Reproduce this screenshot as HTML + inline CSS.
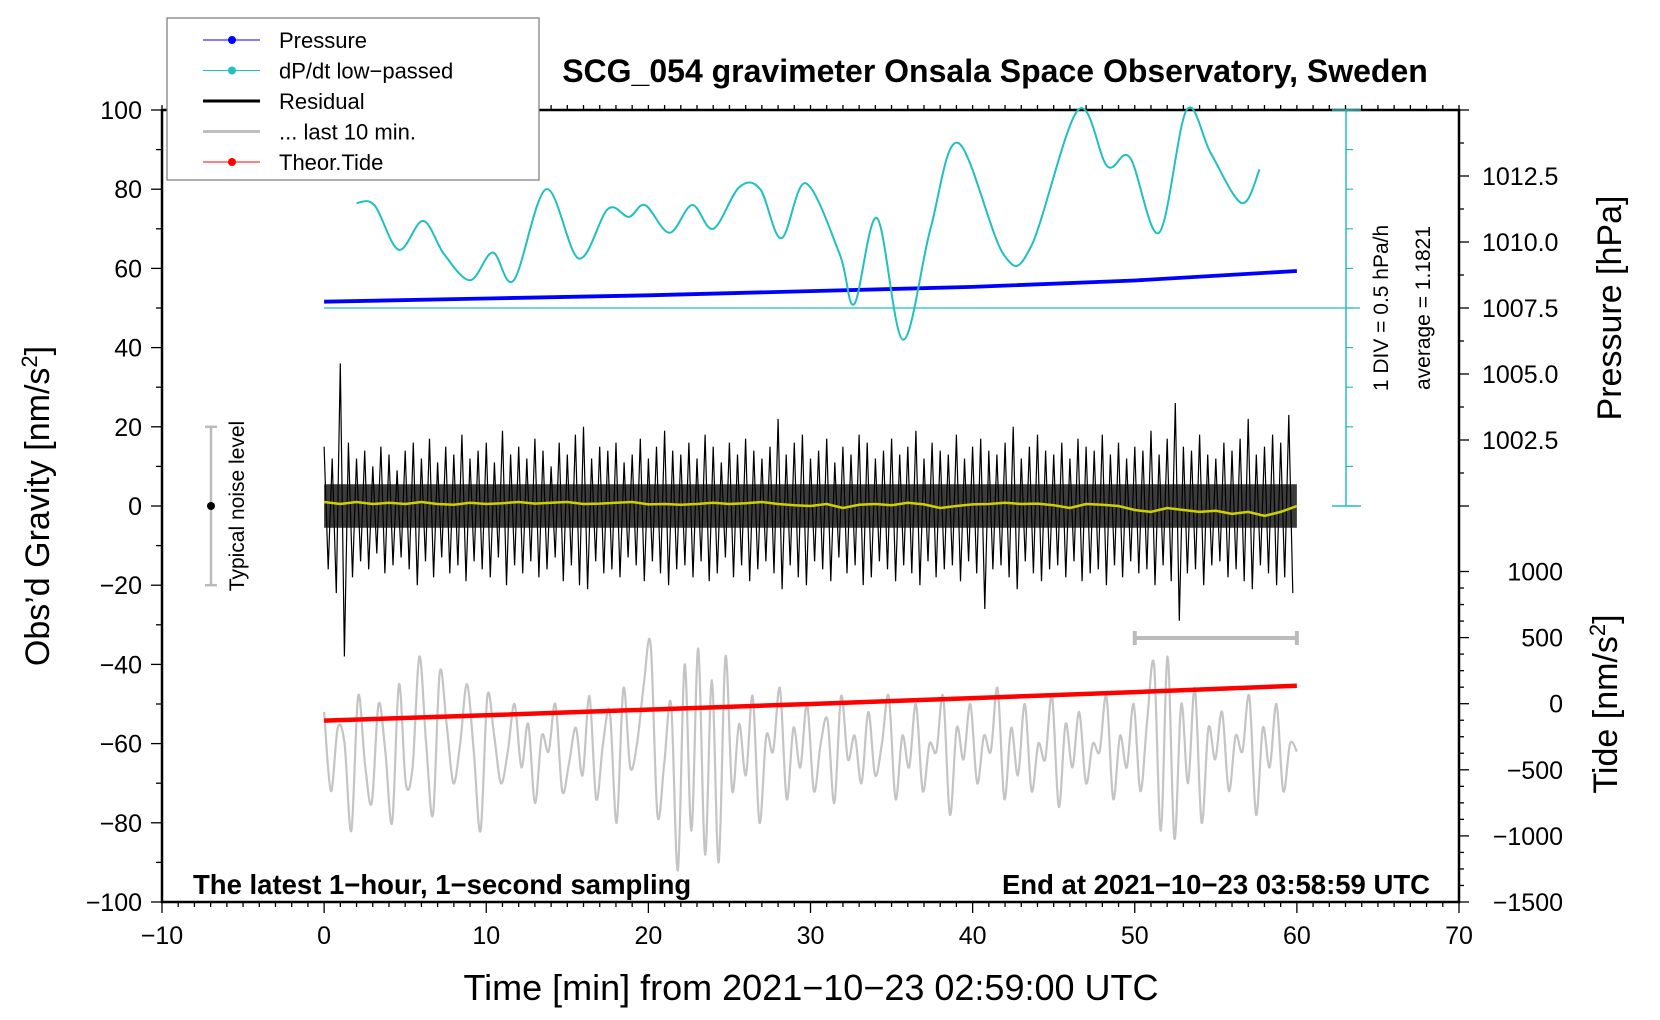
<!DOCTYPE html>
<html><head><meta charset="utf-8"><style>
body{margin:0;background:#fff}
svg{display:block;font-family:"Liberation Sans",sans-serif}
</style></head><body>
<svg id="chart" width="1660" height="1020" viewBox="0 0 1660 1020" xmlns="http://www.w3.org/2000/svg">
<text x="995" y="82" font-size="32" font-weight="bold" text-anchor="middle">SCG_054 gravimeter Onsala Space Observatory, Sweden</text>
<g id="axes"></g>
<g id="marks"></g>
<g id="legend"></g>
</svg>
<script>
const xTicks=[-10,0,10,20,30,40,50,60,70];
const yTicks=[-100,-80,-60,-40,-20,0,20,40,60,80,100];
const pTicks=[1002.5,1005.0,1007.5,1010.0,1012.5];
const tideTicks=[-1500,-1000,-500,0,500,1000];
const pressTime=[0,10,20,30,40,50,60];
const pressVals=[1007.74,1007.86,1007.98,1008.14,1008.30,1008.54,1008.90];
const dpTime=[2,3.1,4.6,6.1,7.4,9.0,10.4,11.7,13.7,15.7,17.5,18.8,19.8,21.3,22.7,24,25.6,26.9,28.2,29.7,31.8,32.7,34.1,35.7,37.4,39.1,41.9,43.6,46.5,48.3,49.7,51.5,53.2,54.7,56.6,57.7];
const dpVals=[76.5,76,64.7,72,63.6,57,64,57,80,62.5,75,73,76,69,76,70,80.5,80,67.6,81.5,63.6,51,72.7,42,70,91.7,63.6,65.5,100,85.8,88,69,100,89,76.5,85];
const residHi=[15,12,36,16,12,14,10,15,13,9,14,16,12,17,11,15,13,18,12,14,16,11,19,13,15,12,17,14,10,16,13,18,20,12,15,14,16,11,13,17,12,15,19,14,13,16,12,18,15,11,16,13,17,14,12,15,22,13,16,18,12,14,17,11,15,13,18,16,12,14,17,13,15,19,12,16,14,13,18,12,15,17,14,13,16,20,12,15,18,14,13,16,12,17,15,14,18,13,16,12,15,14,19,13,17,26,15,14,18,13,12,16,14,17,22,13,15,18,16,23];
const residLo=[-16,-22,-38,-18,-14,-16,-12,-17,-15,-13,-16,-20,-14,-18,-13,-17,-15,-19,-14,-16,-18,-13,-20,-15,-17,-14,-18,-16,-13,-19,-15,-20,-21,-14,-17,-16,-18,-13,-15,-19,-14,-17,-20,-16,-15,-18,-14,-19,-17,-13,-18,-15,-19,-16,-14,-17,-21,-15,-18,-20,-14,-16,-19,-13,-17,-15,-20,-18,-14,-16,-19,-15,-17,-20,-14,-18,-16,-15,-19,-14,-17,-26,-16,-15,-18,-21,-14,-17,-19,-16,-15,-18,-14,-19,-17,-16,-20,-15,-18,-14,-17,-16,-20,-15,-19,-29,-17,-16,-20,-15,-14,-18,-16,-19,-21,-15,-17,-20,-18,-22];
const meanVals=[1,0.5,1,0.5,0.8,0.5,1,0.5,0.3,0.8,0.5,0.7,1,0.6,0.8,1,0.5,0.6,0.8,1,0.4,0.5,0.3,0.5,0.8,0.5,0.7,1,0.5,0.2,0,0.5,-0.5,0.3,0.5,0.2,0.8,0.4,-0.5,0,0.4,0.5,0.8,0.5,0.6,0.2,-0.5,0.5,0.3,0,-1,-1.5,-0.5,-1,-1.5,-1.2,-2,-1.5,-2.5,-1.5,0];
const grayVals=[-52,-72,-56,-60,-82,-48,-65,-75,-50,-62,-80,-45,-70,-66,-38,-60,-78,-42,-55,-70,-60,-45,-62,-82,-48,-58,-70,-62,-50,-66,-55,-75,-58,-62,-50,-72,-65,-56,-68,-48,-74,-60,-52,-80,-46,-66,-60,-45,-35,-78,-65,-50,-92,-40,-82,-36,-88,-44,-90,-38,-72,-55,-68,-48,-80,-58,-62,-46,-74,-56,-66,-50,-72,-60,-54,-75,-48,-64,-58,-70,-52,-68,-60,-48,-74,-58,-66,-50,-72,-60,-62,-48,-78,-56,-64,-50,-70,-58,-62,-46,-74,-56,-68,-50,-72,-60,-64,-48,-76,-55,-66,-52,-70,-60,-62,-48,-74,-58,-66,-50,-72,-54,-40,-82,-38,-84,-50,-70,-46,-80,-56,-64,-52,-72,-58,-62,-48,-78,-56,-66,-50,-72,-60,-62];
const tideTime=[0,10,20,30,40,50,60];
const tideVals=[-128,-88,-45,-2,42,88,136];

const NS="http://www.w3.org/2000/svg";
const X0=162,X1=1459,Y0=110,Y1=902;
const xs=t=>X0+(t+10)/80*(X1-X0);
const ys=g=>Y1-(g+100)/200*(Y1-Y0);
const yp=p=>ys((p-1000)/15*100);
const yt=v=>902-(v+1500)/500*66.1;
function mk(tag,attrs,parent){const e=document.createElementNS(NS,tag);for(const k in attrs)e.setAttribute(k,attrs[k]);parent.appendChild(e);return e;}
const axes=document.getElementById('axes'),marks=document.getElementById('marks'),leg=document.getElementById('legend');

let fr=mk('rect',{x:X0,y:Y0,width:X1-X0,height:Y1-Y0,fill:'none',stroke:'#000','stroke-width':2.5},axes);


for(let t=-10;t<=70;t++){const major=t%10===0;
 mk('line',{x1:xs(t),x2:xs(t),y1:Y1,y2:Y1+(major?11:5),stroke:'#000','stroke-width':1.3},axes);
 mk('line',{x1:xs(t),x2:xs(t),y1:Y0,y2:Y0-5,stroke:'#000','stroke-width':1.3},axes);}
xTicks.forEach(t=>{const e=mk('text',{x:xs(t),y:944,'font-size':25,'text-anchor':'middle'},axes);e.textContent=(t<0?'\u2212'+(-t):t);
 
 });
for(let g=-100;g<=100;g+=10){const major=g%20===0;mk('line',{x1:X0,x2:X0-(major?11:6),y1:ys(g),y2:ys(g),stroke:'#000','stroke-width':1.3},axes);}
yTicks.forEach(g=>{const e=mk('text',{x:X0-20,y:ys(g)+9,'font-size':25,'text-anchor':'end'},axes);e.textContent=(g<0?'\u2212'+(-g):g);
 
 });
for(let p=1000;p<=1015.01;p+=1.25){const major=Math.abs(p/2.5-Math.round(p/2.5))<1e-6;mk('line',{x1:X1,x2:X1+(major?10:5),y1:yp(p),y2:yp(p),stroke:'#000','stroke-width':1.3},axes);}
pTicks.forEach(p=>{const e=mk('text',{x:1482,y:yp(p)+9,'font-size':25},axes);e.textContent=p.toFixed(1);
 
 });
for(let v=-1500;v<=1000;v+=125){const major=v%500===0;mk('line',{x1:X1,x2:X1+(major?10:5),y1:yt(v),y2:yt(v),stroke:'#000','stroke-width':1.3},axes);}
tideTicks.forEach(v=>{const e=mk('text',{x:1563,y:yt(v)+9,'font-size':25,'text-anchor':'end'},axes);e.textContent=(v<0?'\u2212'+(-v):v);
 
 });
let e;
e=mk('text',{x:811,y:1000,'font-size':36,'text-anchor':'middle'},axes);e.textContent='Time [min] from 2021\u221210\u221223 02:59:00 UTC';


e=mk('text',{x:0,y:0,'font-size':34,'text-anchor':'middle',transform:'translate(49,506) rotate(-90)'},axes);e.innerHTML='Obs\u2019d Gravity [nm/s<tspan font-size="22" dy="-12">2</tspan><tspan dy="12">]</tspan>';


e=mk('text',{x:0,y:0,'font-size':34,'text-anchor':'middle',transform:'translate(1621,308) rotate(-90)'},axes);e.textContent='Pressure [hPa]';


e=mk('text',{x:0,y:0,'font-size':34,'text-anchor':'middle',transform:'translate(1617,704) rotate(-90)'},axes);e.innerHTML='Tide [nm/s<tspan font-size="22" dy="-12">2</tspan><tspan dy="12">]</tspan>';


e=mk('text',{x:193,y:894,'font-size':27.5,'font-weight':'bold'},axes);e.textContent='The latest 1\u2212hour, 1\u2212second sampling';


e=mk('text',{x:1430,y:894,'font-size':27.5,'font-weight':'bold','text-anchor':'end'},axes);e.textContent='End at 2021\u221210\u221223 03:58:59 UTC';



const tc='#20c0c0';
mk('line',{x1:1346,x2:1346,y1:ys(100),y2:ys(0),stroke:tc,'stroke-width':1.5},marks);
for(let g=0;g<=100;g+=10)mk('line',{x1:1346,x2:1353,y1:ys(g),y2:ys(g),stroke:tc,'stroke-width':1.2},marks);
mk('line',{x1:1332,x2:1361,y1:ys(100),y2:ys(100),stroke:tc,'stroke-width':1.5},marks);
mk('line',{x1:1332,x2:1361,y1:ys(0),y2:ys(0),stroke:tc,'stroke-width':1.5},marks);
mk('line',{x1:xs(0),x2:1360,y1:ys(50),y2:ys(50),stroke:tc,'stroke-width':1.3},marks);
e=mk('text',{x:0,y:0,'font-size':21,'text-anchor':'middle',transform:'translate(1388,308) rotate(-90)'},marks);e.textContent='1 DIV = 0.5 hPa/h';


e=mk('text',{x:0,y:0,'font-size':21,'text-anchor':'middle',transform:'translate(1430,308) rotate(-90)'},marks);e.textContent='average = 1.1821';



const nx=211;
mk('line',{x1:nx,x2:nx,y1:ys(20),y2:ys(-20),stroke:'#bbb','stroke-width':2.5},marks);
mk('line',{x1:nx-6,x2:nx+6,y1:ys(20),y2:ys(20),stroke:'#bbb','stroke-width':2.5},marks);
mk('line',{x1:nx-6,x2:nx+6,y1:ys(-20),y2:ys(-20),stroke:'#bbb','stroke-width':2.5},marks);
mk('circle',{cx:nx,cy:ys(0),r:4,fill:'#000'},marks);
e=mk('text',{x:0,y:0,'font-size':21,'text-anchor':'middle',transform:'translate(244,506) rotate(-90)'},marks);e.textContent='Typical noise level';



mk('line',{x1:xs(50),x2:xs(60),y1:638,y2:638,stroke:'#bbb','stroke-width':4},marks);
mk('line',{x1:xs(50),x2:xs(50),y1:631,y2:645,stroke:'#bbb','stroke-width':4},marks);
mk('line',{x1:xs(60),x2:xs(60),y1:631,y2:645,stroke:'#bbb','stroke-width':4},marks);

function pathFrom(pts){return pts.map((p,i)=>(i?'L':'M')+p[0].toFixed(1)+' '+p[1].toFixed(1)).join(' ');}
function smooth(pts){let d='M'+pts[0][0]+' '+pts[0][1];for(let i=0;i<pts.length-1;i++){const p0=pts[i-1]||pts[i],p1=pts[i],p2=pts[i+1],p3=pts[i+2]||p2;
 d+=` C${p1[0]+(p2[0]-p0[0])/6} ${p1[1]+(p2[1]-p0[1])/6} ${p2[0]-(p3[0]-p1[0])/6} ${p2[1]-(p3[1]-p1[1])/6} ${p2[0]} ${p2[1]}`;}return d;}

let gp=mk('path',{d:smooth(grayVals.map((v,i)=>[xs(i*60/(grayVals.length-1)),ys(v)])),fill:'none',stroke:'#c4c4c4','stroke-width':2.2},marks);


const rp=[];residHi.forEach((h,i)=>{const t=i*60/residHi.length;rp.push([xs(t),ys(h)]);rp.push([xs(t+60/residHi.length/2),ys(residLo[i])]);});
let band=mk('rect',{x:xs(0),y:ys(5.5),width:xs(60)-xs(0),height:ys(-5.5)-ys(5.5),fill:'#1a1a1a','fill-opacity':0.85},marks);


let rpath=mk('path',{d:pathFrom(rp),fill:'none',stroke:'#000','stroke-width':1.2},marks);


let mp=mk('path',{d:pathFrom(meanVals.map((v,i)=>[xs(i),ys(v)])),fill:'none',stroke:'#d0d000','stroke-width':2.5},marks);


let tp=mk('path',{d:pathFrom(tideTime.map((t,i)=>[xs(t),yt(tideVals[i])])),fill:'none',stroke:'#ff0000','stroke-width':4.5},marks);


let pp=mk('path',{d:pathFrom(pressTime.map((t,i)=>[xs(t),yp(pressVals[i])])),fill:'none',stroke:'#0000ff','stroke-width':3.8},marks);


let dp=mk('path',{d:smooth(dpTime.map((t,i)=>[xs(t),ys(dpVals[i])])),fill:'none',stroke:tc,'stroke-width':2},marks);



let lb=mk('rect',{x:167,y:18,width:372,height:162,fill:'#fff',stroke:'#777','stroke-width':1.2},leg);


const legItems=[['Pressure','#0000ff',1,true],['dP/dt low\u2212passed',tc,1,true],['Residual','#000',3,false],['... last 10 min.','#c0c0c0',3,false],['Theor.Tide','#ff0000',1,true]];
legItems.forEach((it,i)=>{const y=40+i*30.5;
 const g=mk('g',{},leg);
 
 
 mk('line',{x1:203,x2:260,y1:y,y2:y,stroke:it[1],'stroke-width':it[2]},g);
 if(it[3])mk('circle',{cx:232,cy:y,r:4,fill:it[1]},g);
 const t=mk('text',{x:279,y:y+8,'font-size':22},g);t.textContent=it[0];});
</script>
</body></html>
